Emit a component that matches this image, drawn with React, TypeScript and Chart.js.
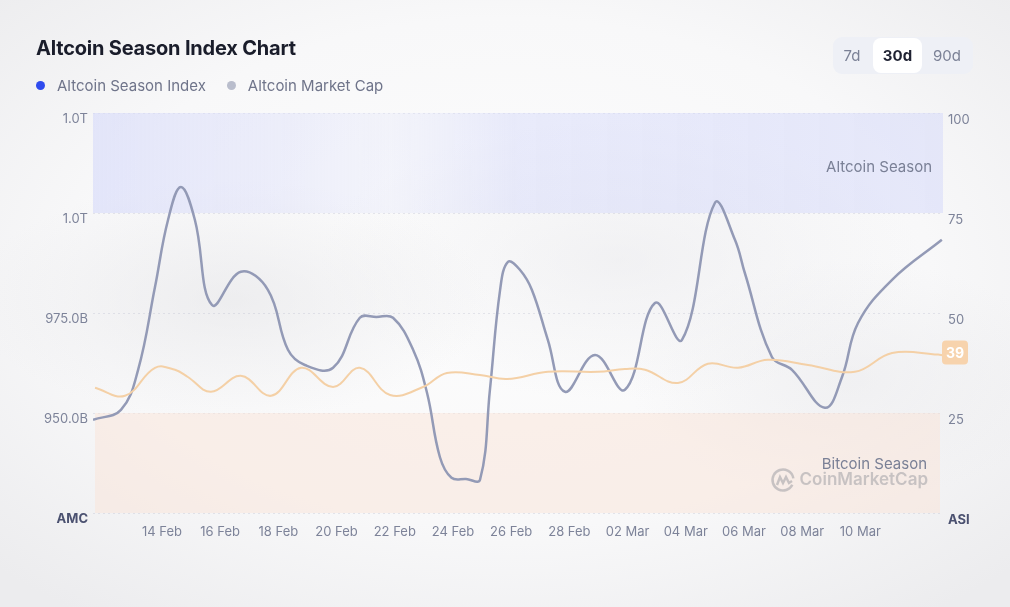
import React, { useEffect, useRef } from "react";
import { Chart, registerables } from "chart.js";

Chart.register(...registerables);

// Days relative to 14 Feb (0 = 14 Feb)
const amcDays = [-2.37, -1.41, -0.82, -0.24, 0.21, 0.65, 1.13, 1.72, 2.71, 3.64, 4.33, 4.91, 5.88, 6.8, 7.37, 7.94, 8.63, 9.11, 9.55, 9.95, 10.45, 10.93, 11.27, 11.62, 11.89, 12.3, 12.71, 13.26, 13.85, 14.88, 15.91, 16.94, 17.87, 19.0, 19.69, 20.03, 20.96, 21.65, 22.78, 23.37, 23.92, 25.09, 26.8];
// Altcoin Market Cap in billions
const amcValues = [948.3, 950.8, 960.8, 981.5, 998.3, 1006.5, 998.3, 977.0, 985.3, 980.8, 965.8, 962.0, 961.3, 973.8, 974.0, 973.8, 965.8, 955.0, 939.0, 933.8, 933.5, 933.3, 955.8, 980.8, 987.8, 985.8, 980.8, 968.3, 955.3, 964.5, 955.8, 977.5, 968.3, 1002.5, 993.3, 985.0, 964.0, 960.8, 951.3, 959.0, 972.5, 983.3, 993.3];

const asiDays = [-2.3, -1.27, -0.24, 0.45, 0.89, 1.68, 2.71, 3.75, 4.78, 5.88, 6.8, 7.84, 8.97, 9.79, 10.93, 11.86, 13.26, 14.98, 15.91, 16.6, 17.73, 18.76, 19.79, 20.82, 22.2, 23.81, 25.09, 26.67, 26.84];
const asiValues = [31.3, 29.3, 36.3, 35.8, 34.0, 30.3, 34.3, 29.3, 36.3, 31.5, 36.3, 29.5, 31.5, 35.0, 34.5, 33.5, 35.3, 35.3, 36.0, 35.8, 32.5, 37.3, 36.3, 38.3, 37.0, 35.3, 40.0, 39.6, 39.4];

const xTickDays = [0, 2, 4, 6, 8, 10, 12, 14, 16, 18, 20, 22, 24];
const xTickLabels = ["14 Feb", "16 Feb", "18 Feb", "20 Feb", "22 Feb", "24 Feb", "26 Feb", "28 Feb", "02 Mar", "04 Mar", "06 Mar", "08 Mar", "10 Mar"];

const amcTicks = [925, 950, 975, 1000, 1025];
const amcTickLabels = ["AMC", "950.0B", "975.0B", "1.0T", "1.0T"];
const asiTicks = [0, 25, 50, 75, 100];
const asiTickLabels = ["ASI", "25", "50", "75", "100"];

const FONT = "Inter, 'Noto Sans', sans-serif";

const bandsPlugin = {
  id: "bands",
  beforeDatasetsDraw(chart: any) {
    const { ctx, chartArea, scales } = chart;
    const y = scales.asi;
    const { left, right } = chartArea;
    ctx.save();
    const aTop = y.getPixelForValue(100);
    const aBot = y.getPixelForValue(75);
    const g = ctx.createLinearGradient(left, 0, right, 0);
    g.addColorStop(0, "rgba(214,218,250,0.62)");
    g.addColorStop(0.2, "rgba(218,221,250,0.45)");
    g.addColorStop(0.35, "rgba(225,228,250,0.3)");
    g.addColorStop(0.5, "rgba(214,218,250,0.5)");
    g.addColorStop(1, "rgba(214,218,250,0.55)");
    ctx.fillStyle = g;
    ctx.fillRect(left, aTop, right - left, aBot - aTop);
    const bTop = y.getPixelForValue(25);
    const bBot = y.getPixelForValue(0);
    ctx.fillStyle = "rgba(249, 228, 216, 0.5)";
    ctx.fillRect(left + 2, bTop, right - left - 5, bBot - bTop);

    ctx.font = `400 15px ${FONT}`;
    ctx.fillStyle = "#7a8096";
    ctx.textAlign = "right";
    ctx.textBaseline = "middle";
    ctx.fillText("Altcoin Season", right - 11, aTop + 54);
    ctx.fillText("Bitcoin Season", right - 16, bTop + 51);

    ctx.font = `600 17px ${FONT}`;
    ctx.fillStyle = "rgba(160,160,165,0.55)";
    ctx.fillText("CoinMarketCap", right - 15, bTop + 67);
    const cx = right - 160;
    const cy = bTop + 67;
    ctx.strokeStyle = "rgba(160,160,165,0.55)";
    ctx.lineWidth = 2.5;
    ctx.beginPath();
    ctx.arc(cx, cy, 10.5, Math.PI * 0.15, Math.PI * 1.95);
    ctx.stroke();
    ctx.beginPath();
    ctx.moveTo(cx - 6, cy + 5);
    ctx.lineTo(cx - 3, cy - 3);
    ctx.lineTo(cx, cy + 3);
    ctx.lineTo(cx + 3, cy - 3);
    ctx.lineTo(cx + 6, cy + 3);
    ctx.lineTo(cx + 9, cy + 1);
    ctx.stroke();
    ctx.restore();
  },
  afterDatasetsDraw(chart: any) {
    const { ctx, chartArea, scales } = chart;
    const last = asiValues[asiValues.length - 1];
    const yPix = scales.asi.getPixelForValue(last) - 3;
    const x0 = chartArea.right;
    const w = 26;
    const h = 24;
    ctx.save();
    ctx.fillStyle = "#f7d3ad";
    const r = 4;
    const bx = x0 - 1;
    const by = yPix - h / 2;
    ctx.beginPath();
    ctx.moveTo(bx + r, by);
    ctx.lineTo(bx + w - r, by);
    ctx.quadraticCurveTo(bx + w, by, bx + w, by + r);
    ctx.lineTo(bx + w, by + h - r);
    ctx.quadraticCurveTo(bx + w, by + h, bx + w - r, by + h);
    ctx.lineTo(bx + r, by + h);
    ctx.quadraticCurveTo(bx, by + h, bx, by + h - r);
    ctx.lineTo(bx, by + r);
    ctx.quadraticCurveTo(bx, by, bx + r, by);
    ctx.fill();
    ctx.fillStyle = "#ffffff";
    ctx.font = `700 14px ${FONT}`;
    ctx.textAlign = "center";
    ctx.textBaseline = "middle";
    ctx.fillText(String(Math.round(last)), bx + w / 2, yPix + 1);
    ctx.restore();
  },
};

function ChartCanvas() {
  const ref = useRef<HTMLCanvasElement | null>(null);
  useEffect(() => {
    if (!ref.current) return;
    Chart.defaults.font.family = FONT;
    const chart = new Chart(ref.current, {
      type: "line",
      data: {
        datasets: [
          {
            label: "Altcoin Season Index",
            data: asiDays.map((d, i) => ({ x: d, y: asiValues[i] })),
            yAxisID: "asi",
            borderColor: "#f4d0a6",
            borderWidth: 2,
            pointRadius: 0,
            tension: 0.4,
            fill: false,
          },
          {
            label: "Altcoin Market Cap",
            data: amcDays.map((d, i) => ({ x: d, y: amcValues[i] })),
            yAxisID: "amc",
            borderColor: "#939ab6",
            borderWidth: 2.5,
            pointRadius: 0,
            tension: 0.4,
            fill: false,
          },
        ],
      },
      options: {
        animation: false,
        responsive: false,
        maintainAspectRatio: false,
        layout: { padding: { left: 33, right: 17, top: 113, bottom: 54 } },
        plugins: { legend: { display: false }, tooltip: { enabled: false } },
        scales: {
          x: {
            type: "linear",
            min: -2.37,
            max: 26.84,
            afterFit: (s: any) => { s.height = 40; },
            afterBuildTicks: (s: any) => { s.ticks = xTickDays.map((v) => ({ value: v })); },
            grid: { display: false, drawTicks: false },
            border: { display: false },
            ticks: {
              padding: 11,
              color: "#7d8399",
              font: { size: 13 },
              maxRotation: 0,
              autoSkip: false,
              callback: (v: any) => {
                const i = xTickDays.indexOf(Number(v));
                return i >= 0 ? xTickLabels[i] : "";
              },
            },
          },
          amc: {
            type: "linear",
            position: "left",
            min: 925,
            max: 1025,
            afterFit: (s: any) => { s.width = 60; },
            afterBuildTicks: (s: any) => { s.ticks = amcTicks.map((v) => ({ value: v })); },
            grid: { display: false, drawTicks: false },
            border: { display: false },
            ticks: {
              padding: 5,
              labelOffset: 6,
              color: (c: any) => (c.tick && c.tick.value === 925 ? "#4b5170" : "#7d8399"),
              font: (c: any) => (c.tick && c.tick.value === 925 ? { size: 13, weight: "bold" } : { size: 13 }),
              callback: (v: any) => {
                const i = amcTicks.indexOf(Number(v));
                return i >= 0 ? amcTickLabels[i] : "";
              },
            },
          },
          asi: {
            type: "linear",
            position: "right",
            min: 0,
            max: 100,
            afterFit: (s: any) => { s.width = 50; },
            afterBuildTicks: (s: any) => { s.ticks = asiTicks.map((v) => ({ value: v })); },
            grid: { display: true, drawTicks: false, color: "rgba(185,190,205,0.35)" },
            border: { display: false, dash: [2, 3] },
            ticks: {
              padding: 5,
              labelOffset: 7,
              color: (c: any) => (c.tick && c.tick.value === 0 ? "#4b5170" : "#7d8399"),
              font: (c: any) => (c.tick && c.tick.value === 0 ? { size: 13, weight: "bold" } : { size: 13 }),
              callback: (v: any) => {
                const i = asiTicks.indexOf(Number(v));
                return i >= 0 ? asiTickLabels[i] : "";
              },
            },
          },
        },
      } as any,
      plugins: [bandsPlugin],
    });
    return () => chart.destroy();
  }, []);
  return (
    <canvas
      ref={ref}
      width={1010}
      height={607}
      style={{ position: "absolute", left: 0, top: 0, width: 1010, height: 607 }}
    />
  );
}

export default function App() {
  return (
    <div
      style={{
        position: "absolute",
        left: 0,
        top: 0,
        width: 1010,
        height: 607,
        overflow: "hidden",
        fontFamily: FONT,
        background:
          "radial-gradient(ellipse 260px 120px at 230px 300px, rgba(225,225,228,0.5), rgba(255,255,255,0) 100%)," +
          "radial-gradient(ellipse 300px 140px at 620px 260px, rgba(228,228,232,0.45), rgba(255,255,255,0) 100%)," +
          "radial-gradient(ellipse 220px 120px at 850px 380px, rgba(230,230,233,0.45), rgba(255,255,255,0) 100%)," +
          "radial-gradient(ellipse 70% 70% at 50% 45%, #fdfdfd 0%, #f8f8f9 60%, #ececee 100%)",
      }}
    >
      <ChartCanvas />
      <div
        style={{
          position: "absolute",
          left: 36,
          top: 36,
          fontSize: 20,
          fontWeight: 700,
          color: "#1a1d2b",
          letterSpacing: -0.2,
          whiteSpace: "nowrap",
        }}
      >
        Altcoin Season Index Chart
      </div>
      <div
        style={{
          position: "absolute",
          left: 36,
          top: 76,
          display: "flex",
          alignItems: "center",
          fontSize: 15,
          color: "#6f748a",
          whiteSpace: "nowrap",
        }}
      >
        <span style={{ width: 9, height: 9, borderRadius: "50%", background: "#2f4bee", display: "inline-block", marginRight: 12 }} />
        <span style={{ marginRight: 21 }}>Altcoin Season Index</span>
        <span style={{ width: 9, height: 9, borderRadius: "50%", background: "#b9bdcc", display: "inline-block", marginRight: 12 }} />
        <span>Altcoin Market Cap</span>
      </div>
      <div
        style={{
          position: "absolute",
          left: 833,
          top: 37,
          width: 140,
          height: 37,
          borderRadius: 9,
          background: "#eef0f6",
          fontSize: 15,
          color: "#7b8196",
        }}
      >
        <span style={{ position: "absolute", left: 6, width: 26, top: 0, lineHeight: "37px", textAlign: "center" }}>7d</span>
        <span
          style={{
            position: "absolute",
            left: 40,
            width: 49,
            top: 1,
            height: 35,
            lineHeight: "35px",
            textAlign: "center",
            background: "#ffffff",
            borderRadius: 8,
            fontWeight: 700,
            color: "#1f2232",
          }}
        >
          30d
        </span>
        <span style={{ position: "absolute", left: 93, width: 42, top: 0, lineHeight: "37px", textAlign: "center" }}>90d</span>
      </div>
    </div>
  );
}
